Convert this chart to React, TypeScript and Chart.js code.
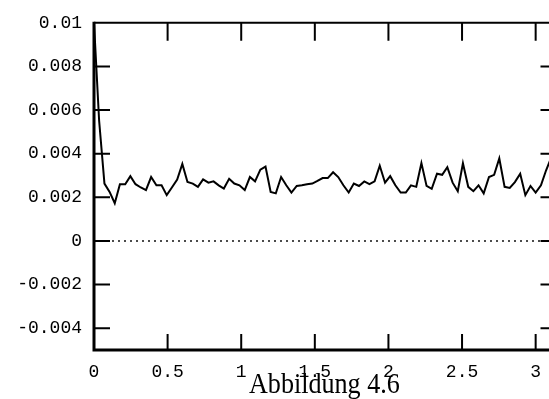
import { useEffect, useRef } from "react";
import { Chart, registerables } from "chart.js";

Chart.register(...registerables);

// sample positions (x) and measured values (y)
const xValues = [
  0, 0.035, 0.071, 0.106, 0.141, 0.176, 0.212, 0.247, 0.282, 0.318,
  0.353, 0.388, 0.424, 0.459, 0.494, 0.529, 0.565, 0.6, 0.635, 0.671,
  0.706, 0.741, 0.777, 0.812, 0.847, 0.882, 0.918, 0.953, 0.988, 1.024,
  1.059, 1.094, 1.13, 1.165, 1.2, 1.235, 1.271, 1.306, 1.341, 1.377,
  1.412, 1.447, 1.483, 1.518, 1.553, 1.588, 1.624, 1.659, 1.694, 1.73,
  1.765, 1.8, 1.836, 1.871, 1.906, 1.941, 1.977, 2.012, 2.047, 2.083,
  2.118, 2.153, 2.189, 2.224, 2.259, 2.294, 2.33, 2.365, 2.4, 2.436,
  2.471, 2.506, 2.542, 2.577, 2.612, 2.647, 2.683, 2.718, 2.753, 2.789,
  2.824, 2.859, 2.895, 2.93, 2.965, 3.0, 3.036, 3.071, 3.106, 3.142,
];
const yValues = [
  0.01, 0.0055, 0.00263, 0.00225, 0.00173, 0.0026, 0.0026, 0.00297, 0.0026, 0.00245,
  0.00233, 0.00293, 0.00255, 0.00255, 0.0021, 0.00245, 0.00281, 0.00353, 0.0027, 0.00263,
  0.00248, 0.00282, 0.00267, 0.00273, 0.00255, 0.0024, 0.00285, 0.00263, 0.00255, 0.00233,
  0.00293, 0.00273, 0.00327, 0.00341, 0.00225, 0.00218, 0.00293, 0.00255, 0.00222, 0.00252,
  0.00255, 0.0026, 0.00263, 0.00275, 0.00288, 0.00288, 0.00315, 0.00293, 0.00255, 0.00222,
  0.00263, 0.00252, 0.00273, 0.0026, 0.00273, 0.00345, 0.00267, 0.00297, 0.00255, 0.00222,
  0.00222, 0.00255, 0.00248, 0.00357, 0.00252, 0.00239, 0.00308, 0.00303, 0.00338, 0.00267,
  0.00228, 0.00356, 0.00248, 0.00228, 0.00255, 0.00218, 0.00293, 0.00303, 0.00378, 0.00248,
  0.00243, 0.0027, 0.00308, 0.0021, 0.00252, 0.00222, 0.00255, 0.00324, 0.00383, 0.0042,
];
const zeroLineX = [0, 3.142];
const zeroLineY = [0, 0];

const xMin = 0;
const xMax = 3.1416;
const yMin = -0.005;
const yMax = 0.01;

const xTicks = [0, 0.5, 1, 1.5, 2, 2.5, 3];
const xTickLabels = ["0", "0.5", "1", "1.5", "2", "2.5", "3"];
const yTicks = [-0.004, -0.002, 0, 0.002, 0.004, 0.006, 0.008, 0.01];
const yTickLabels = ["-0.004", "-0.002", "0", "0.002", "0.004", "0.006", "0.008", "0.01"];
const caption = "Abbildung 4.6";

const framePlugin = {
  id: "frameTicks",
  afterDatasetsDraw(chart: any) {
    const { ctx, chartArea, scales } = chart;
    const { left, right, top, bottom } = chartArea;
    const x = scales.x;
    const y = scales.y;
    ctx.save();
    ctx.strokeStyle = "#000";
    ctx.lineCap = "butt";
    // frame
    ctx.lineWidth = 2;
    ctx.beginPath();
    ctx.moveTo(left, top);
    ctx.lineTo(right, top);
    ctx.lineTo(right, bottom);
    ctx.stroke();
    ctx.lineWidth = 3;
    ctx.beginPath();
    ctx.moveTo(left, top - 1);
    ctx.lineTo(left, bottom);
    ctx.lineTo(right, bottom);
    ctx.stroke();
    // inward ticks
    ctx.lineWidth = 2;
    ctx.beginPath();
    for (const v of xTicks) {
      if (v === 0) continue;
      const px = x.getPixelForValue(v);
      ctx.moveTo(px, bottom);
      ctx.lineTo(px, bottom - 16);
      ctx.moveTo(px, top);
      ctx.lineTo(px, top + 18);
    }
    for (const v of yTicks) {
      if (v === 0.01) continue;
      const py = y.getPixelForValue(v);
      ctx.moveTo(left, py);
      ctx.lineTo(left + 16, py);
      ctx.moveTo(right, py);
      ctx.lineTo(right - 16, py);
    }
    ctx.stroke();
    ctx.restore();
  },
};

export default function App() {
  const canvasRef = useRef<HTMLCanvasElement | null>(null);

  useEffect(() => {
    const canvas = canvasRef.current;
    if (!canvas) return;
    const tickFont = { family: "'Liberation Mono', 'DejaVu Sans Mono', monospace", size: 18 };
    const chart = new Chart(canvas, {
      type: "line",
      data: {
        datasets: [
          {
            data: xValues.map((xv, i) => ({ x: xv, y: yValues[i] })),
            borderColor: "#000",
            borderWidth: 2,
            pointRadius: 0,
            tension: 0,
            fill: false,
          },
          {
            data: zeroLineX.map((xv, i) => ({ x: xv, y: zeroLineY[i] })),
            borderColor: "#111",
            borderWidth: 1.6,
            borderDash: [2, 4],
            pointRadius: 0,
            fill: false,
          },
        ],
      },
      options: {
        animation: false,
        responsive: false,
        maintainAspectRatio: false,
        devicePixelRatio: 1,
        layout: { padding: { top: 18, right: 3.5, left: 0, bottom: 0 } },
        plugins: { legend: { display: false }, tooltip: { enabled: false } },
        scales: {
          x: {
            type: "linear",
            min: xMin,
            max: xMax,
            grid: { display: false, drawTicks: false },
            border: { display: false },
            afterBuildTicks: (s: any) => {
              s.ticks = xTicks.map((v) => ({ value: v }));
            },
            afterFit: (s: any) => {
              s.height = 49;
            },
            ticks: {
              color: "#000",
              font: tickFont,
              padding: 11,
              maxRotation: 0,
              autoSkip: false,
              callback: (v: any) => {
                const i = xTicks.findIndex((t) => Math.abs(t - Number(v)) < 1e-9);
                return i >= 0 ? xTickLabels[i] : "";
              },
            },
          },
          y: {
            type: "linear",
            min: yMin,
            max: yMax,
            grid: { display: false, drawTicks: false },
            border: { display: false },
            afterBuildTicks: (s: any) => {
              s.ticks = yTicks.map((v) => ({ value: v }));
            },
            afterFit: (s: any) => {
              s.width = 94;
            },
            ticks: {
              color: "#000",
              font: tickFont,
              padding: 12,
              autoSkip: false,
              callback: (v: any) => {
                const i = yTicks.findIndex((t) => Math.abs(t - Number(v)) < 1e-9);
                return i >= 0 ? yTickLabels[i] : "";
              },
            },
          },
        },
      },
      plugins: [framePlugin],
    });
    return () => chart.destroy();
  }, []);

  return (
    <div
      style={{
        position: "fixed",
        left: 0,
        top: 0,
        width: 549,
        height: 399,
        overflow: "hidden",
        background: "#fff",
      }}
    >
      <canvas ref={canvasRef} width={560} height={399} style={{ display: "block", width: 560, height: 399 }} />
      <div
        style={{
          position: "absolute",
          left: 249,
          top: 369,
          fontFamily: "'Liberation Serif', 'Times New Roman', serif",
          fontSize: 29,
          lineHeight: "29px",
          whiteSpace: "nowrap",
          color: "#000",
          transform: "scaleX(0.9)",
          transformOrigin: "left top",
        }}
      >
        {caption}
      </div>
    </div>
  );
}
